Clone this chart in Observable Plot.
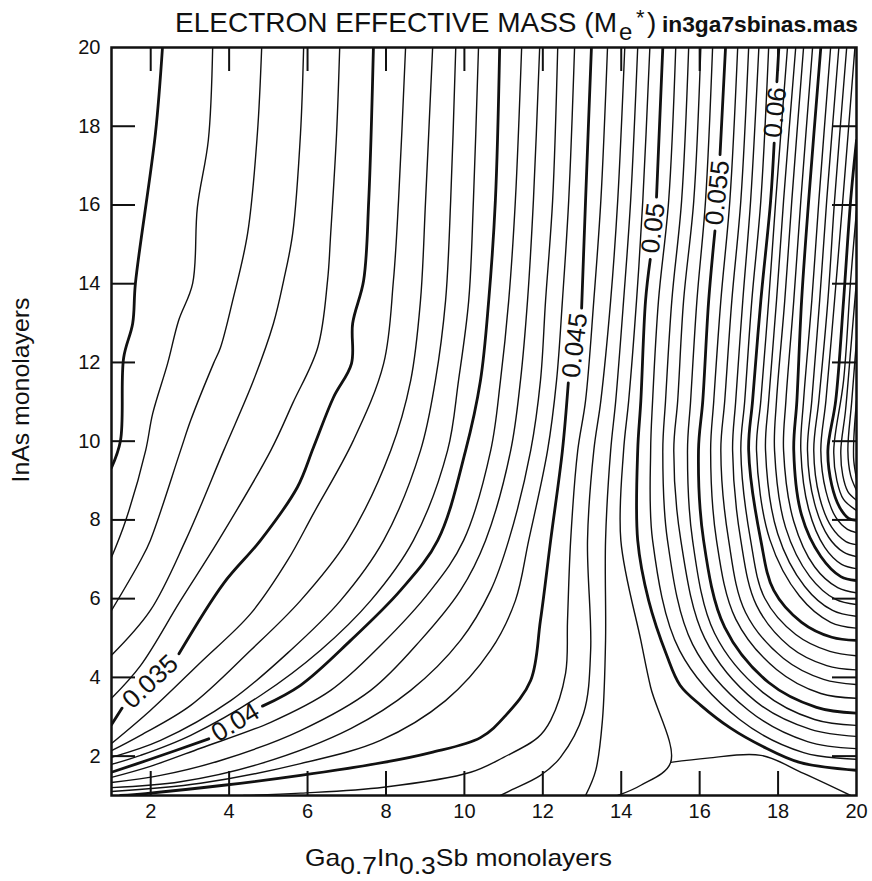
<!DOCTYPE html>
<html>
<head>
<meta charset="utf-8">
<script src="https://cdn.jsdelivr.net/npm/d3@7"></script>
<script src="https://cdn.jsdelivr.net/npm/@observablehq/plot@0.6"></script>
<style>
  body { margin: 0; background: #fff; }
</style>
</head>
<body>
<div id="chart"></div>
<script>
// Electron effective mass (units of m0) of an InAs / Ga0.7In0.3Sb superlattice,
// drawn as iso-mass contours. Each path is a list of [GaInSb ML, InAs ML] points;
// [null, null] leaves a break in the line where its value label sits.
const FONT = "'Liberation Sans', Arial, Helvetica, sans-serif";

const xTicks = [2, 4, 6, 8, 10, 12, 14, 16, 18, 20];
const yTicks = [2, 4, 6, 8, 10, 12, 14, 16, 18, 20];

const c030 = [[2.30,20],[2.12,17.81],[1.61,14.01],[1.54,12.99],[1.31,12.12],[1.23,10.02],[1.0,9.33]];
const c031 = [[3.58,20],[3.47,17.65],[3.19,15.94],[3.07,14.01],[2.71,13.06],[2.43,11.97],[2.05,10.70],[1.87,9.76],[1.36,7.98],[1.0,7.05]];
const c032 = [[4.83,20],[4.72,17.81],[4.47,15.27],[4.09,13.57],[3.78,12.38],[3.60,11.97],[3.02,10.53],[2.76,9.76],[1.99,7.48],[1.74,6.97],[1.0,5.70]];
const c033 = [[5.90,20],[5.82,17.81],[5.62,15.27],[5.39,14.08],[5.13,12.99],[4.62,11.54],[3.86,9.76],[2.89,7.48],[1.99,5.70],[1.0,4.56]];
const c034 = [[6.82,20],[6.74,17.81],[6.59,15.27],[6.51,14.08],[6.26,12.38],[5.62,10.96],[5.06,9.76],[3.73,7.48],[2.76,5.95],[1.74,4.30],[1.0,3.47]];
const c035 = [[7.68,20],[7.56,16.11],[7.43,14.08],[7.15,12.99],[7.12,11.97],[6.66,11.11],[6.15,9.84],[5.74,8.83],[4.80,7.48],[3.86,6.39],[2.72,4.60],[null,null],[1.27,3.22],[1.0,2.80]];
const c036 = [[8.50,20],[8.32,16.11],[8.19,14.08],[7.94,11.97],[7.17,10.02],[6.15,8.16],[5.49,6.97],[4.55,5.62],[3.27,4.38],[1.99,3.16],[1.0,2.32]];
const c037 = [[9.19,20],[9.01,16.11],[8.88,13.57],[8.63,11.54],[8.12,9.76],[7.02,7.48],[5.82,5.95],[4.55,4.69],[3.02,3.29],[1.74,2.53],[1.0,2.14]];
const c038 = [[9.78,20],[9.65,16.11],[9.52,13.57],[9.26,11.54],[8.88,9.76],[7.94,7.48],[6.84,5.95],[5.57,4.69],[4.04,3.41],[2.25,2.40],[1.0,1.97]];
const c039 = [[10.36,20],[10.23,16.11],[10.11,13.57],[9.85,11.54],[9.57,9.76],[8.70,7.48],[7.61,5.95],[6.33,4.69],[4.80,3.54],[3.02,2.53],[1.74,2.02],[1.0,1.79]];
const c040 = [[10.90,20],[10.79,16.11],[10.62,13.57],[10.41,11.54],[10.03,9.76],[9.32,7.48],[8.37,6.21],[7.10,4.94],[5.82,3.80],[4.85,3.27],[null,null],[3.48,2.44],[1.99,1.92],[1.0,1.59]];
const c041 = [[11.46,20],[11.30,16.11],[11.13,13.57],[10.92,11.54],[10.67,9.76],[9.98,7.48],[9.14,6.21],[7.86,4.81],[6.59,3.67],[5.06,2.86],[3.27,2.20],[1.99,1.74],[1.0,1.46]];
const c042 = [[11.92,20],[11.76,16.11],[11.61,13.57],[11.43,11.54],[11.18,9.76],[10.54,7.48],[9.90,6.21],[8.88,4.94],[7.61,3.67],[5.82,2.65],[3.78,1.89],[2.25,1.51],[1.0,1.33]];
const c043 = [[12.38,20],[12.25,16.11],[12.07,13.57],[11.94,11.54],[11.69,9.76],[11.13,7.48],[10.67,6.21],[9.90,4.94],[8.63,3.67],[7.10,2.70],[4.80,1.81],[2.76,1.35],[1.0,1.20]];
const c044 = [[12.81,20],[12.66,16.11],[12.50,13.57],[12.35,11.54],[12.12,9.76],[11.64,7.48],[11.30,5.95],[10.67,4.69],[9.52,3.41],[7.86,2.40],[5.82,1.81],[3.27,1.31],[1.0,1.10]];
const c045 = [[13.24,20],[13.09,16.11],[12.99,13.38],[null,null],[12.65,11.48],[12.50,9.76],[12.20,7.48],[11.94,5.45],[11.69,3.92],[11.05,3.03],[10.41,2.47],[9.14,2.09],[7.94,1.84],[5.82,1.51],[3.86,1.26],[1.87,1.05],[1.23,1.0]];
const c046 = [[13.65,20],[13.48,16.11],[13.30,13.57],[13.09,11.03],[12.89,9.76],[12.71,7.48],[12.63,5.45],[12.58,4.10],[12.20,2.91],[11.87,2.47],[11.0,1.97],[10.16,1.59],[7.94,1.21],[5.82,1.06],[4.37,1.0]];
const c047 = [[14.09,20],[13.91,16.11],[13.73,13.57],[13.48,11.03],[13.30,9.76],[13.14,7.48],[13.22,4.69],[13.04,3.09],[12.45,1.97],[11.94,1.51],[11.18,1.13],[10.92,1.0]];
const c048 = [[14.42,20],[14.24,16.11],[14.06,13.57],[13.86,11.03],[13.73,9.76],[13.60,7.48],[13.60,4.94],[13.52,2.91],[13.35,1.64],[13.09,1.0]];
// the 0.049 level passes through a saddle near (15.3, 1.8): it splits into three arms there
const c049 = [[14.73,20],[14.55,16.11],[14.39,13.57],[14.19,11.03],[14.06,9.76],[13.99,7.48],[14.50,4.94],[14.75,3.75],[15.26,1.84],[14.50,1.26],[13.91,1.0]];
const c049b = [[15.26,1.84],[16.20,1.95],[17.56,2.02],[18.65,1.56],[19.85,1.0]];
const c050 = [[15.06,20],[14.90,16.20],[null,null],[14.74,14.62],[14.62,13.57],[14.50,11.03],[14.42,9.76],[14.42,7.48],[14.70,5.95],[15.16,4.56],[15.50,3.80],[16.03,3.29],[16.79,2.71],[17.60,2.25],[18.55,1.84],[20,1.64]];
const c051 = [[15.39,20],[15.21,16.11],[14.95,13.57],[14.80,11.03],[14.75,9.76],[14.80,7.48],[15.49,4.68],[17.02,2.93],[18.65,2.09],[20,1.92]];
const c052 = [[15.72,20],[15.54,16.11],[15.29,13.57],[15.13,11.03],[15.06,9.76],[15.18,7.48],[15.82,4.84],[17.25,3.16],[18.75,2.37],[20,2.19]];
const c053 = [[16.03,20],[15.85,16.11],[15.59,13.57],[15.44,11.03],[15.34,9.76],[15.52,7.48],[16.13,4.99],[17.43,3.39],[18.83,2.68],[20,2.50]];
const c054 = [[16.33,20],[16.15,16.11],[15.93,13.57],[15.77,11.03],[15.69,9.76],[15.82,7.48],[16.38,5.12],[17.61,3.62],[18.93,2.93],[20,2.78]];
const c055 = [[16.66,20],[16.52,17.28],[null,null],[16.39,15.34],[16.23,13.57],[16.08,11.03],[15.97,9.76],[16.10,7.48],[16.64,5.27],[17.76,3.87],[18.98,3.24],[20,3.09]];
const c056 = [[16.97,20],[16.77,16.11],[16.54,13.57],[16.36,11.03],[16.28,9.76],[16.43,7.48],[16.92,5.48],[17.96,4.20],[19.09,3.59],[20,3.47]];
const c057 = [[17.25,20],[17.05,16.11],[16.82,13.57],[16.64,11.03],[16.54,9.76],[16.74,7.48],[17.17,5.65],[18.14,4.48],[19.16,3.95],[20,3.82]];
const c058 = [[17.51,20],[17.30,16.11],[17.10,13.57],[16.92,11.03],[16.84,9.76],[17.05,7.48],[17.45,5.83],[18.30,4.78],[19.24,4.30],[20,4.19]];
const c059 = [[17.76,20],[17.56,16.11],[17.33,13.57],[17.15,11.03],[17.05,9.76],[17.30,7.48],[17.66,6.01],[18.45,5.09],[19.32,4.66],[20,4.55]];
const c060 = [[18.02,20],[17.97,19.13],[null,null],[17.90,17.57],[17.81,16.11],[17.56,13.57],[17.35,11.03],[17.25,9.76],[17.56,7.48],[17.89,6.21],[18.60,5.40],[19.37,5.02],[20,4.94]];
const c061 = [[18.24,20],[17.94,16.11],[17.76,13.57],[17.56,11.03],[17.45,9.76],[17.79,7.50],[18.55,6.06],[19.34,5.40],[20,5.25]];
const c062 = [[18.45,20],[18.14,16.11],[17.96,13.57],[17.76,11.03],[17.68,9.76],[17.99,7.65],[18.68,6.31],[19.39,5.70],[20,5.55]];
const c063 = [[18.65,20],[18.35,16.11],[18.17,13.57],[17.96,11.03],[17.91,9.76],[18.19,7.81],[18.81,6.56],[19.47,5.98],[20,5.85]];
const c064 = [[18.88,20],[18.58,16.11],[18.40,13.57],[18.20,11.03],[18.14,9.76],[18.40,7.96],[18.93,6.81],[19.52,6.28],[20,6.15]];
const c065 = [[19.09,20],[18.78,16.11],[18.60,13.57],[18.48,11.03],[18.40,9.76],[18.60,8.12],[19.09,7.07],[19.60,6.56],[20,6.46]];
const c066 = [[19.34,20],[19.04,16.11],[18.86,13.57],[18.65,11.03],[18.58,9.76],[18.78,8.27],[19.19,7.30],[19.62,6.87],[20,6.76]];
const c067 = [[19.55,20],[19.24,16.11],[19.06,13.57],[18.86,11.03],[18.75,9.76],[18.93,8.42],[19.29,7.56],[19.67,7.18],[20,7.07]];
const c068 = [[19.75,20],[19.44,16.11],[19.27,13.57],[19.04,11.03],[18.91,9.76],[19.06,8.57],[19.37,7.81],[19.73,7.45],[20,7.37]];
const c069 = [[19.96,20],[19.65,16.11],[19.44,13.57],[19.22,11.03],[19.09,9.76],[19.22,8.73],[19.47,8.07],[19.77,7.76],[20,7.68]];
const c070 = [[20,17.64],[19.85,16.11],[19.67,13.57],[19.47,11.03],[19.27,9.76],[19.37,8.88],[19.57,8.32],[19.80,8.04],[20,7.99]];
const c071 = [[20,15.86],[19.85,14.08],[19.67,11.54],[19.42,9.76],[19.50,9.0],[19.67,8.52],[20,8.24]];
const c072 = [[20,14.08],[19.85,12.30],[19.72,10.78],[19.60,9.76],[19.65,9.13],[19.78,8.72],[20,8.50]];
const c073 = [[20,12.56],[19.88,11.03],[19.78,9.76],[19.85,9.13],[20,8.75]];
const c074 = [[20,11.03],[19.93,10.02],[19.93,9.51],[20,9.05]];

const contours = [
  [0.030, c030], [0.031, c031], [0.032, c032], [0.033, c033], [0.034, c034],
  [0.035, c035], [0.036, c036], [0.037, c037], [0.038, c038], [0.039, c039],
  [0.040, c040], [0.041, c041], [0.042, c042], [0.043, c043], [0.044, c044],
  [0.045, c045], [0.046, c046], [0.047, c047], [0.048, c048], [0.049, c049],
  [0.049, c049b], [0.050, c050], [0.051, c051], [0.052, c052], [0.053, c053],
  [0.054, c054], [0.055, c055], [0.056, c056], [0.057, c057], [0.058, c058],
  [0.059, c059], [0.060, c060], [0.061, c061], [0.062, c062], [0.063, c063],
  [0.064, c064], [0.065, c065], [0.066, c066], [0.067, c067], [0.068, c068],
  [0.069, c069], [0.070, c070], [0.071, c071], [0.072, c072], [0.073, c073],
  [0.074, c074]
];

// value labels written along their contours
const labelLevels = [0.035, 0.04, 0.045, 0.05, 0.055, 0.06];
const labelX = [1.99, 4.16, 12.82, 14.82, 16.46, 17.93];
const labelY = [3.89, 2.86, 12.43, 15.41, 16.31, 18.35];
const labelAngle = [-43, -31, -83, -83, -84, -84];

const rows = [];
contours.forEach(([level, path], id) => {
  const bold = Math.round(level * 1000) % 5 === 0;
  for (const [x, y] of path) rows.push({id, level, bold, x, y});
});

const ink = "#111";
const lineOpts = {x: "x", y: "y", z: "id", stroke: ink, curve: "catmull-rom", clip: true, strokeLinejoin: "round"};

const chart = Plot.plot({
  width: 872,
  height: 881,
  marginLeft: 111,
  marginRight: 16,
  marginTop: 47,
  marginBottom: 86,
  style: {fontFamily: FONT, fontSize: "20px", background: "#fff", color: ink},
  x: {domain: [1, 20]},
  y: {domain: [1, 20]},
  marks: [
    Plot.line(rows.filter(d => !d.bold), {...lineOpts, strokeWidth: 1.4}),
    Plot.line(rows.filter(d => d.bold), {...lineOpts, strokeWidth: 2.8}),
    Plot.text(labelLevels, {
      x: (d, i) => labelX[i],
      y: (d, i) => labelY[i],
      rotate: (d, i) => labelAngle[i],
      text: d => String(d),
      fontSize: 26,
      fill: ink
    }),
    // inward tick marks on all four sides
    Plot.ruleX(xTicks.filter(d => d < 20), {x: d => d, stroke: ink, strokeWidth: 2, insetTop: 724}),
    Plot.ruleX(xTicks.filter(d => d < 20), {x: d => d, stroke: ink, strokeWidth: 2, insetBottom: 724}),
    Plot.ruleY(yTicks.filter(d => d < 20), {y: d => d, stroke: ink, strokeWidth: 2, insetRight: 721}),
    Plot.ruleY(yTicks.filter(d => d < 20), {y: d => d, stroke: ink, strokeWidth: 2, insetLeft: 721}),
    Plot.frame({stroke: ink, strokeWidth: 2.5}),
    Plot.axisX(xTicks, {tickSize: 0, tickPadding: 8, fontSize: 20, label: null}),
    Plot.axisY(yTicks, {tickSize: 0, tickPadding: 11, fontSize: 20, label: null})
  ]
});

document.getElementById("chart").append(chart);

// title and axis titles (with sub/superscripts)
const svg = d3.select(chart);
const g = svg.append("g").attr("fill", ink).attr("font-family", FONT).attr("text-anchor", "start");

g.append("text").attr("x", 175).attr("y", 32).attr("font-size", 28)
  .attr("textLength", 442).attr("lengthAdjust", "spacingAndGlyphs")
  .text("ELECTRON EFFECTIVE MASS (M");
g.append("text").attr("x", 619).attr("y", 40).attr("font-size", 24).text("e");
g.append("text").attr("x", 636).attr("y", 25).attr("font-size", 22).text("*");
g.append("text").attr("x", 647).attr("y", 32).attr("font-size", 28).text(")");
g.append("text").attr("x", 662).attr("y", 32).attr("font-size", 22).attr("font-weight", "bold")
  .attr("textLength", 196).attr("lengthAdjust", "spacingAndGlyphs")
  .text("in3ga7sbinas.mas");

g.append("text")
  .attr("transform", "translate(29,390) rotate(-90)")
  .attr("text-anchor", "middle").attr("font-size", 24)
  .attr("textLength", 185).attr("lengthAdjust", "spacingAndGlyphs")
  .text("InAs monolayers");

const xt = g.append("text").attr("x", 305).attr("y", 866).attr("font-size", 24)
  .attr("textLength", 307).attr("lengthAdjust", "spacingAndGlyphs");
xt.append("tspan").text("Ga");
xt.append("tspan").attr("dy", 8).text("0.7");
xt.append("tspan").attr("dy", -8).text("In");
xt.append("tspan").attr("dy", 8).text("0.3");
xt.append("tspan").attr("dy", -8).text("Sb monolayers");
</script>
</body>
</html>
